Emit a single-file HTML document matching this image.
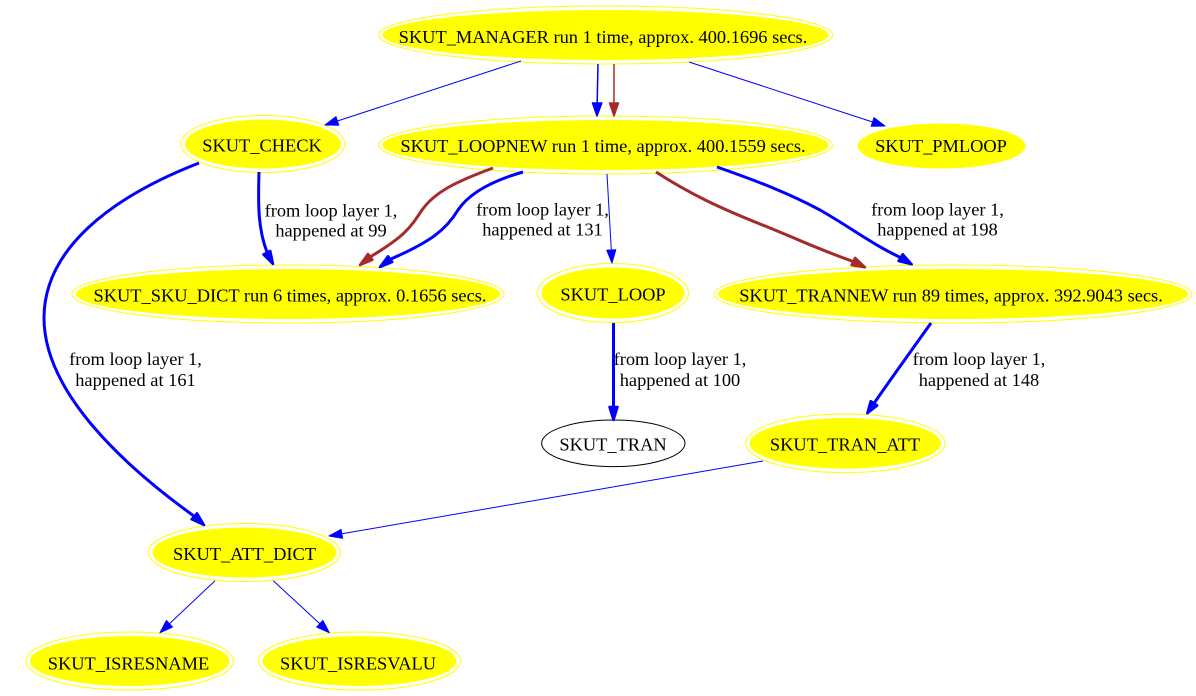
<!DOCTYPE html>
<html><head><meta charset="utf-8"><style>
html,body{margin:0;padding:0;background:#fff;}
svg{display:block;}
text{font-family:"Liberation Serif","Times New Roman",serif;font-size:18.4px;fill:#000;}
</style></head><body>
<svg width="1196" height="696" viewBox="0 0 1196 696" xmlns="http://www.w3.org/2000/svg">
<rect width="1196" height="696" fill="#fff"/>
<!-- Nodes -->
<g>
  <ellipse cx="605.5" cy="35" rx="227" ry="29" fill="none" stroke="#ffff00" stroke-width="1"/>
  <ellipse cx="605.5" cy="35" rx="223" ry="25" fill="#ffff00"/>
  <text x="603" y="43" text-anchor="middle">SKUT_MANAGER run 1 time, approx. 400.1696 secs.</text>

  <ellipse cx="605.5" cy="145" rx="227" ry="29" fill="none" stroke="#ffff00" stroke-width="1"/>
  <ellipse cx="605.5" cy="145" rx="223" ry="25" fill="#ffff00"/>
  <text x="603" y="152" text-anchor="middle">SKUT_LOOPNEW run 1 time, approx. 400.1559 secs.</text>

  <ellipse cx="263" cy="144" rx="82" ry="28.5" fill="none" stroke="#ffff00" stroke-width="1"/>
  <ellipse cx="263" cy="144" rx="78" ry="24.5" fill="#ffff00"/>
  <text x="262" y="151.5" text-anchor="middle">SKUT_CHECK</text>

  <ellipse cx="941.5" cy="146" rx="84" ry="22.5" fill="#ffff00"/>
  <text x="941" y="152" text-anchor="middle">SKUT_PMLOOP</text>

  <ellipse cx="288" cy="294" rx="216" ry="29" fill="none" stroke="#ffff00" stroke-width="1"/>
  <ellipse cx="288" cy="294" rx="212" ry="25" fill="#ffff00"/>
  <text x="290" y="301.5" text-anchor="middle">SKUT_SKU_DICT run 6 times, approx. 0.1656 secs.</text>

  <ellipse cx="613" cy="293" rx="75.5" ry="29.5" fill="none" stroke="#ffff00" stroke-width="1"/>
  <ellipse cx="613" cy="293" rx="71.5" ry="25.5" fill="#ffff00"/>
  <text x="613" y="300.7" text-anchor="middle">SKUT_LOOP</text>

  <ellipse cx="953" cy="294" rx="239" ry="29" fill="none" stroke="#ffff00" stroke-width="1"/>
  <ellipse cx="953" cy="294" rx="235" ry="25" fill="#ffff00"/>
  <text x="951" y="301.5" text-anchor="middle">SKUT_TRANNEW run 89 times, approx. 392.9043 secs.</text>

  <ellipse cx="613.3" cy="443.3" rx="71.7" ry="23.3" fill="#fff" stroke="#000" stroke-width="1"/>
  <text x="613" y="450.7" text-anchor="middle">SKUT_TRAN</text>

  <ellipse cx="845.3" cy="443.3" rx="99.7" ry="29.3" fill="none" stroke="#ffff00" stroke-width="1"/>
  <ellipse cx="845.3" cy="443.3" rx="95.7" ry="25.3" fill="#ffff00"/>
  <text x="845" y="450.7" text-anchor="middle">SKUT_TRAN_ATT</text>

  <ellipse cx="244.5" cy="552.5" rx="96" ry="29" fill="none" stroke="#ffff00" stroke-width="1"/>
  <ellipse cx="244.5" cy="552.5" rx="92" ry="25" fill="#ffff00"/>
  <text x="244.5" y="560" text-anchor="middle">SKUT_ATT_DICT</text>

  <ellipse cx="129.7" cy="661" rx="103.7" ry="29" fill="none" stroke="#ffff00" stroke-width="1"/>
  <ellipse cx="129.7" cy="661" rx="99.7" ry="25" fill="#ffff00"/>
  <text x="128.5" y="669.3" text-anchor="middle">SKUT_ISRESNAME</text>

  <ellipse cx="359.5" cy="661" rx="101" ry="29" fill="none" stroke="#ffff00" stroke-width="1"/>
  <ellipse cx="359.5" cy="661" rx="97" ry="25" fill="#ffff00"/>
  <text x="358" y="669.3" text-anchor="middle">SKUT_ISRESVALU</text>
</g>

<!-- Edges -->
<g fill="none" stroke-linejoin="round">
  <path d="M521,61 L337.4,121" stroke="#0000ff" stroke-width="1"/>
  <polygon points="325,125 336.0,116.7 338.8,125.3" fill="#0000ff" stroke="#0000ff" stroke-width="1"/>
  <path d="M598,64 L597.2,103" stroke="#0000ff" stroke-width="1.5"/>
  <polygon points="597,116 592.5,103 601.8,103" fill="#0000ff" stroke="#0000ff" stroke-width="1.5"/>
  <path d="M614,64 L614,103" stroke="#a52a2a" stroke-width="1.5"/>
  <polygon points="614,116 609.5,103 618.5,103" fill="#a52a2a" stroke="#a52a2a" stroke-width="1.5"/>
  <path d="M689,62 L872.6,122" stroke="#0000ff" stroke-width="1"/>
  <polygon points="885,126 871.2,126.3 874.0,117.7" fill="#0000ff" stroke="#0000ff" stroke-width="1"/>

  <path d="M259,172 C258,205 258,230 267.5,253.4" stroke="#0000ff" stroke-width="3"/>
  <polygon points="273,264 263.4,254.5 270.3,250.9" fill="#0000ff" stroke="#0000ff" stroke-width="2.5"/>

  <path d="M199,163 C109,198 44,250 44,318 C44,395 130,470 194.3,516.3" stroke="#0000ff" stroke-width="3"/>
  <polygon points="204,525 191.6,519.3 197.0,513.3" fill="#0000ff" stroke="#0000ff" stroke-width="2.5"/>

  <path d="M493,168 C455,182 435,192 422,210 C410,228 405,236 370.2,256.9" stroke="#a52a2a" stroke-width="3"/>
  <polygon points="360,265 368.0,254.0 372.4,259.8" fill="#a52a2a" stroke="#a52a2a" stroke-width="2.5"/>
  <path d="M523,172 C488,182 468,195 458,210 C446,230 430,242 390.4,259.2" stroke="#0000ff" stroke-width="3"/>
  <polygon points="380,267 388.0,256.2 392.3,262.0" fill="#0000ff" stroke="#0000ff" stroke-width="2.5"/>

  <path d="M607,174 L611.3,250" stroke="#0000ff" stroke-width="1"/>
  <polygon points="612,263 606.8,250.3 615.8,249.7" fill="#0000ff" stroke="#0000ff" stroke-width="1"/>

  <path d="M656,172 C690,194 720,208 760,224 C800,240 820,250 853.3,261.5" stroke="#a52a2a" stroke-width="3"/>
  <polygon points="865,267.3 851.6,265.1 855.1,257.9" fill="#a52a2a" stroke="#a52a2a" stroke-width="2.5"/>
  <path d="M717,167 C760,182 790,194 820,210 C850,227 870,243 900.6,257.6" stroke="#0000ff" stroke-width="3"/>
  <polygon points="911.7,264.3 898.5,261.0 902.7,254.2" fill="#0000ff" stroke="#0000ff" stroke-width="2.5"/>

  <path d="M613.5,323 L613.5,407" stroke="#0000ff" stroke-width="3"/>
  <polygon points="613.5,420 609.5,407 617.5,407" fill="#0000ff" stroke="#0000ff" stroke-width="2.5"/>

  <path d="M931,323 C916,344 893,376 874,403.3" stroke="#0000ff" stroke-width="3"/>
  <polygon points="867.3,413.3 870.7,401.1 877.3,405.5" fill="#0000ff" stroke="#0000ff" stroke-width="2.5"/>

  <path d="M763,461 L341.8,533.8" stroke="#0000ff" stroke-width="1"/>
  <polygon points="329,536 341.0,529.4 342.6,538.2" fill="#0000ff" stroke="#0000ff" stroke-width="1"/>

  <path d="M215,580.7 L169.45,623.8" stroke="#0000ff" stroke-width="1"/>
  <polygon points="160,632.7 166.4,620.5 172.5,627.1" fill="#0000ff" stroke="#0000ff" stroke-width="1"/>
  <path d="M273.3,580.7 L319.8,623.8" stroke="#0000ff" stroke-width="1"/>
  <polygon points="329.3,632.7 316.7,627.1 322.9,620.5" fill="#0000ff" stroke="#0000ff" stroke-width="1"/>
</g>

<!-- Edge labels -->
<g text-anchor="middle">
  <text x="331" y="216.7">from loop layer 1,</text>
  <text x="331" y="236.7">happened at 99</text>

  <text x="542.5" y="215.7">from loop layer 1,</text>
  <text x="542.5" y="235.7">happened at 131</text>

  <text x="937.5" y="215.7">from loop layer 1,</text>
  <text x="937.5" y="235.7">happened at 198</text>

  <text x="135.5" y="365">from loop layer 1,</text>
  <text x="135.5" y="386">happened at 161</text>

  <text x="680" y="365">from loop layer 1,</text>
  <text x="680" y="386">happened at 100</text>

  <text x="979" y="365">from loop layer 1,</text>
  <text x="979" y="386">happened at 148</text>
</g>
</svg>
</body></html>
